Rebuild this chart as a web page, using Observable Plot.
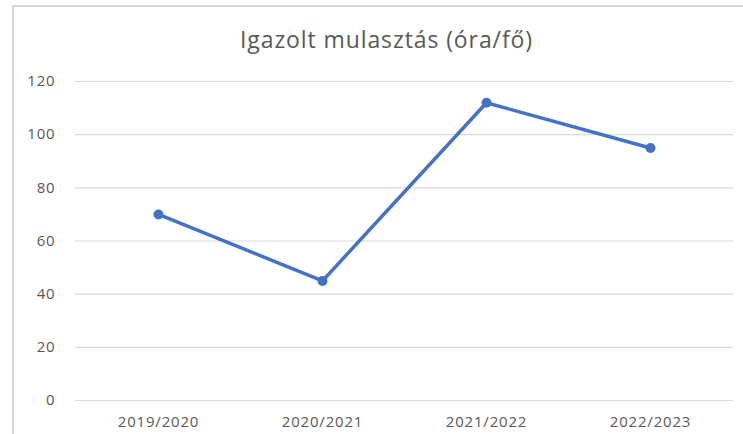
<!DOCTYPE html>
<html>
<head>
<meta charset="utf-8">
<script src="https://cdn.jsdelivr.net/npm/d3@7"></script>
<script src="https://cdn.jsdelivr.net/npm/@observablehq/plot@0.6"></script>
<style>
  html, body { margin: 0; padding: 0; background: #fff; }
  #wrap { position: relative; width: 743px; height: 434px; overflow: hidden; font-family: "Open Sans", sans-serif; }
  #frame { position: absolute; left: 12px; top: 5px; width: 800px; height: 500px; border-left: 2px solid #d9d9d9; border-top: 2px solid #d9d9d9; }
  #title { position: absolute; left: 0; top: 28px; width: 773px; text-align: center; font-size: 23px; line-height: 23px; letter-spacing: 0.9px; color: #595959; }
  #chart { position: absolute; left: 0; top: 60px; }
</style>
</head>
<body>
<div id="wrap">
  <div id="frame"></div>
  <div id="title">Igazolt mulasztás (óra/fő)</div>
  <div id="chart"></div>
</div>
<script>
const categories = ["2019/2020", "2020/2021", "2021/2022", "2022/2023"];
const values = [70, 45, 112, 95];
const yTicks = [0, 20, 40, 60, 80, 100, 120];

const data = categories.map((c, i) => ({year: c, value: values[i]}));

const chart = Plot.plot({
  width: 743,
  height: 374,
  marginTop: 21,
  marginBottom: 34,
  marginLeft: 75,
  marginRight: 10,
  style: {fontFamily: "'Open Sans', sans-serif", fontSize: "15px", color: "#595959", background: "transparent"},
  x: {type: "band", domain: categories, padding: 0, label: null},
  y: {domain: [0, 120], label: null},
  marks: [
    Plot.gridY(yTicks, {stroke: "#d9d9d9", strokeOpacity: 1, strokeWidth: 1.2}),
    Plot.axisY(yTicks, {tickSize: 0, tickPadding: 20, label: null, fill: "#595959", fontSize: 15}),
    Plot.axisX({tickSize: 0, tickPadding: 16, label: null, fill: "#595959", fontSize: 15}),
    Plot.line(data, {x: "year", y: "value", stroke: "#4472C4", strokeWidth: 3.5}),
    Plot.dot(data, {x: "year", y: "value", r: 5, fill: "#4472C4", stroke: "none"})
  ]
});
chart.querySelectorAll("text").forEach(t => t.style.letterSpacing = "0.8px");
document.getElementById("chart").appendChild(chart);
</script>
</body>
</html>
